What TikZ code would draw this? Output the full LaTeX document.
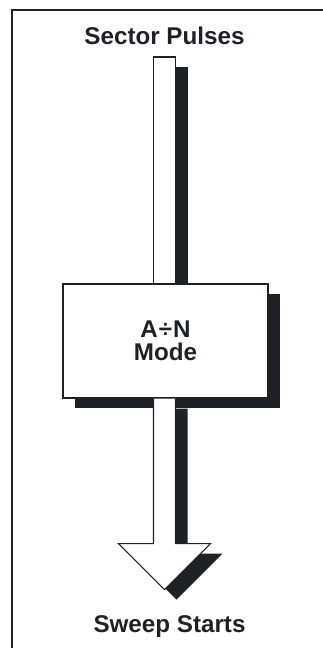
\documentclass[tikz,border=0pt]{standalone}
\usepackage{fontspec}
\setmainfont{Liberation Sans}
\usetikzlibrary{calc,positioning,shadows,backgrounds}
\definecolor{ink}{HTML}{1E2226}
\tikzset{
  caption/.style={font=\bfseries\fontsize{24.2}{22.5}\selectfont, text=ink, inner sep=0pt},
  face/.style={draw=ink, line width=1.1pt, fill=white,
    general shadow={shadow xshift=12pt, shadow yshift=-10pt, fill=ink}},
}

\begin{document}
\begin{tikzpicture}[x=1pt,y=-1pt]
\useasboundingbox (0,0) rectangle (323,648);
\draw [ink, line width=2pt] (12,648) -- (12,10) -- (323,10);

\node [caption, anchor=base] (src) at (164.5,44) {Sector Pulses};
\node [caption, anchor=base] (dst) at (169.5,632) {Sweep Starts};
\coordinate (top) at (164.5,57);

\node [face, caption, align=center, minimum width=205pt, minimum height=114pt] (mode) at (165.5,341) {A\kern1pt÷\kern1pt N\\Mode};

% shaft into the box
\begin{pgfonlayer}{background}
\draw [face] ($(top)+(-11,0)$) rectangle ($(top |- mode.north)+(11,0)$);
\end{pgfonlayer}

% arrow out of the box
\draw [face] ($(top |- mode.south)+(-11,0)$) -- ++(0,145) -- ++(-35,0) -- ++(46,46)
  -- ++(46,-46) -- ++(-35,0) -- ($(top |- mode.south)+(11,0)$);

\end{tikzpicture}
\end{document}
